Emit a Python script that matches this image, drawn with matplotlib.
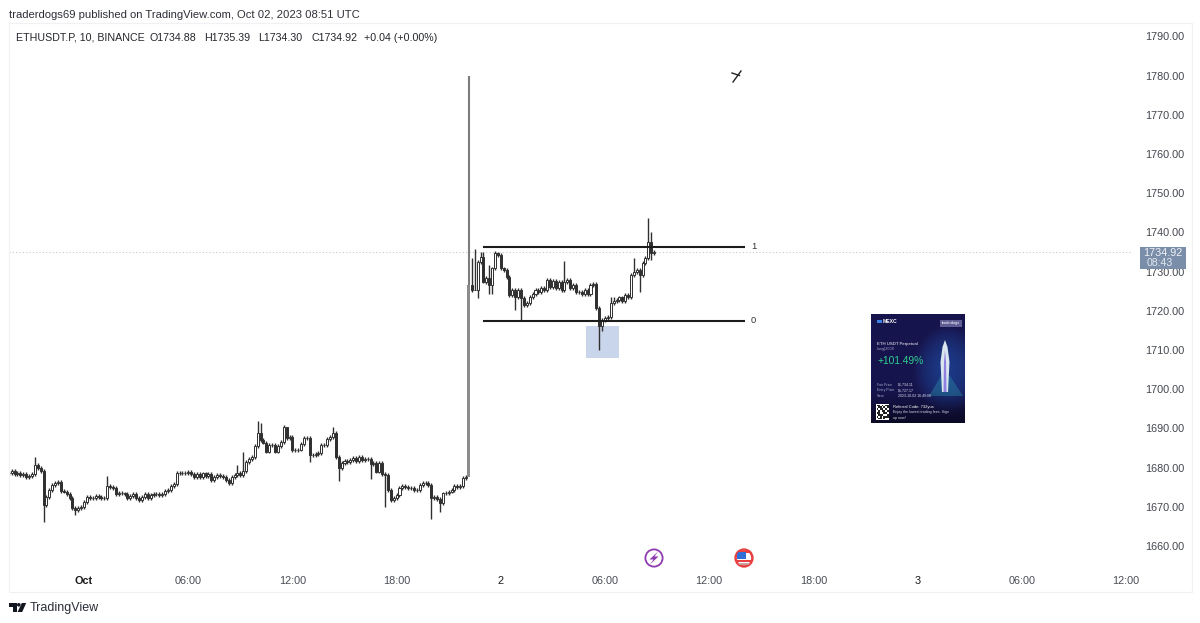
import matplotlib
matplotlib.use("Agg")
import matplotlib.pyplot as plt
from matplotlib.patches import Rectangle, Circle, Polygon
import numpy as np

plt.rcParams['font.family'] = ['Liberation Sans', 'DejaVu Sans']

# ---- data: 10 minute closes ----
closes_a = [1678.7,1679.1,1678.4,1678.7,1678.1,1678.4,1677.5,1677.9,1678.4,1680.7,1679.8,1679.2,1670.5,1672.6,1674.4,1675.5,1676.1,1676.4,1674.1,1673.9,
            1673.3,1672.2,1669.6,1669.3,1669.6,1670.0,1671.3,1672.4,1672.2,1672.2,1672.7,1672.6,1672.2,1672.2,1675.3,1675.1,1674.7,1673.3,1673.6,1673.4,
            1673.3,1672.2,1672.7,1673.3,1672.2,1671.7,1672.4,1673.3,1672.3,1673.0,1673.3,1673.2,1673.0,1673.3,1674.1,1674.4,1675.3,1675.8,1678.7,1678.5,
            1678.7,1678.5,1679.0,1678.4,1677.5,1678.4,1677.7,1678.5,1677.9,1678.4,1676.8,1677.7,1678.1,1677.9,1677.5,1676.8,1676.1,1677.5,1678.1,1678.7,
            1678.1,1679.2,1681.5,1682.1,1682.8,1685.5,1688.7,1687.0,1686.4,1684.1,1685.8,1685.8,1684.1,1685.5,1686.6,1690.4,1687.5,1687.9,1684.5,1684.5,1684.5]
closes_b = [1686.0,1687.5,1687.5,1683.2,1683.2,1683.5,1683.8,1685.8,1685.8,1687.2,1687.7,1688.9,1682.8,1679.8,1681.1,1681.8,1681.5,1681.9,1682.4,1681.8,
            1682.8,1681.9,1682.1,1682.1,1680.9,1681.1,1679.0,1681.1,1678.4,1678.1,1674.4,1671.7,1672.2,1673.0,1674.7,1675.3,1675.0,1674.7,1674.9,1674.3,
            1674.3,1675.5,1676.1,1676.1,1675.5,1672.3,1672.4,1671.9,1671.0,1673.4,1673.6,1673.9,1674.3,1675.3,1675.1,1675.3,1677.3,1677.5]
close_spike = [1726.6]
closes_c = [1725.3,1725.3,1732.5,1733.8,1727.4,1728.3,1726.6,1730.8,1734.7,1734.2,1730.8,1730.4,1728.7,1724.0,1725.3,1723.6,1725.3,1723.2,1721.5,1721.9,
            1723.6,1724.4,1725.3,1724.9,1725.7,1725.3,1727.9,1726.1,1727.7,1725.7,1727.4,1725.3,1727.4,1727.9,1725.7,1726.6,1724.9,1724.9,1724.4,1725.3,
            1724.4,1726.6,1726.8,1720.6,1716.0,1717.6,1718.1,1718.5,1721.9,1722.6,1722.7,1723.4,1722.6,1724.0,1723.4,1729.1,1730.0,1730.4,1729.1,1732.1,
            1733.4,1737.6,1734.7,1734.92]
closes = closes_a + closes_b + close_spike + closes_c
first_open = 1678.5
# wicks worth reading; other bars carry a short wick
high_marks = {9:1682.6,34:1677.9,79:1680.7,81:1684.0,86:1691.9,87:1691.3,96:1689.5,112:1690.3,146:1676.0,159:1780.0,
              160:1733.4,161:1735.7,163:1735.1,164:1735.1,166:1731.6,168:1735.3,169:1735.1,192:1732.8,208:1723.5,209:1723.4,216:1733.4,221:1743.8,222:1740.2,223:1735.39}
low_marks = {12:1666.0,23:1667.9,24:1668.7,101:1684.3,104:1681.5,114:1676.6,125:1677.0,130:1670.0,146:1666.8,149:1668.8,
             161:1725.3,162:1723.2,164:1727.0,166:1724.4,167:1724.4,175:1720.2,177:1717.6,204:1710.0,205:1714.9,218:1724.9,222:1733.0,223:1734.3}
price_ticks = [1790,1780,1770,1760,1750,1740,1730,1720,1710,1700,1690,1680,1670,1660]
time_labels = ['Oct','06:00','12:00','18:00','2','06:00','12:00','18:00','3','06:00','12:00']
fib_one, fib_zero = 1736.4, 1717.5
box_low, box_high = 1708.0, 1716.0
last_price, countdown = 1734.92, '08:43'
W, H = 1200, 623
BAR_PX, BAR0_PX = 2.894, 8.8
L, R, T, B = 9, 1133, 23, 568

fig = plt.figure(figsize=(W/100, H/100), dpi=100, facecolor='white')
ax = fig.add_axes([L/W, 1-B/H, (R-L)/W, (B-T)/H])
ax.set_xlim((L-BAR0_PX)/BAR_PX, (R-BAR0_PX)/BAR_PX)
ax.set_ylim(1660+(546-B)/3.92, 1660+(546-T)/3.92)
for s in ax.spines.values():
    s.set_visible(False)

c = np.array(closes)
o = np.r_[first_open, c[:-1]]
idx = np.arange(len(c))
hi = np.maximum(o, c) + 0.5
lo = np.minimum(o, c) - 0.5
for k, v in high_marks.items():
    hi[k] = v
for k, v in low_marks.items():
    lo[k] = v
ink = '#303030'
ax.add_patch(Rectangle((199.4, box_low), 11.5, box_high-box_low, fc='#c9d5ea', ec='none', zorder=1))
mask = idx != 159
ax.vlines(idx[mask], lo[mask], hi[mask], color=ink, lw=1.0, zorder=3)
up = (c >= o) & mask
dn = (c < o) & mask
ax.bar(idx[up], (c-o)[up], bottom=o[up], width=0.7, fc='white', ec=ink, lw=0.7, zorder=4)
ax.bar(idx[dn], (o-c)[dn], bottom=c[dn], width=0.7, fc=ink, ec=ink, lw=0.7, zorder=4)
ax.vlines([159], [c[159]], [hi[159]], color='#7c7c7c', lw=1.5, zorder=5)
ax.bar([159], [c[159]-o[159]], bottom=[o[159]], width=1.0, fc='#8c8c8c', ec='none', zorder=5)

ax.axhline(last_price, color='#c4c8d0', lw=0.8, ls=(0, (1, 2)), zorder=2)
x1, x2 = (483-BAR0_PX)/BAR_PX, (745-BAR0_PX)/BAR_PX
ax.plot([x1, x2], [fib_one]*2, color='#1c1c1c', lw=1.5, zorder=6, solid_capstyle='butt')
ax.plot([x1, x2], [fib_zero]*2, color='#1c1c1c', lw=1.5, zorder=6, solid_capstyle='butt')
ax.text((751-BAR0_PX)/BAR_PX, fib_one, '1', fontsize=6.8, color='#333', va='center')
ax.text((751-BAR0_PX)/BAR_PX, fib_zero, '0', fontsize=6.8, color='#333', va='center')

ax.yaxis.tick_right()
ax.set_yticks(price_ticks)
ax.set_yticklabels([f'{p:.2f}' for p in price_ticks], fontsize=7.8, color='#43464f')
ax.tick_params(axis='y', length=0, pad=8.6)
ax.set_xticks([26+36*k for k in range(len(time_labels))])
ax.set_xticklabels(time_labels, fontsize=7.8, color='#4a4d55')
ax.tick_params(axis='x', length=0, pad=6)
for lab, t in zip(ax.get_xticklabels(), time_labels):
    if t == 'Oct':
        lab.set_fontweight('bold'); lab.set_color('#1a1a1a')
    elif t in ('2', '3'):
        lab.set_color('#1a1a1a')

# overlay in picture pixels
ov = fig.add_axes([0, 0, 1, 1], facecolor='none')
ov.set_xlim(0, W); ov.set_ylim(H, 0); ov.axis('off')
ov.add_patch(Rectangle((8.5, 23), 1183, 569, fc='none', ec='#f1f1f3', lw=0.9))
ov.text(9, 14.5, 'traderdogs69 published on TradingView.com, Oct 02, 2023 08:51 UTC', fontsize=8.1, color='#2e3038', va='center')
header_parts = [(16, 'ETHUSDT.P, 10, BINANCE'), (150, 'O1734.88'), (204.5, 'H1735.39'), (258.5, 'L1734.30'), (311, 'C1734.92'), (364, '+0.04 (+0.00%)')]
for xp, s in header_parts:
    ov.text(xp, 38, s, fontsize=7.7, color='#24262d', va='center')

# last price label
ov.add_patch(Rectangle((1139.5, 247), 46.5, 21.5, fc='#7a8ea9', ec='none', zorder=5))
ov.text(1163, 253.5, f'{last_price:.2f}', fontsize=7.8, color='#eef1f6', ha='center', va='center', zorder=6)
ov.text(1147, 263, countdown, fontsize=7.6, color='#e3e8ef', ha='left', va='center', zorder=6)

# cross mark
ov.plot([733, 741], [82, 71], color='#222', lw=1.0)
ov.plot([732, 739.5], [73, 75.5], color='#222', lw=1.0)

# event icons
ov.add_patch(Circle((654, 558), 8.6, fc='white', ec='#8e3bb0', lw=1.3))
ov.add_patch(Polygon([[658, 551.5], [649.5, 559.5], [653.5, 559.5], [650, 564.5], [658.5, 556.5], [654.5, 556.5]], fc='#8e3bb0', ec='none'))
flag_ring = Circle((744, 558), 8.4, fc='white', ec='#e84040', lw=1.8, zorder=3)
ov.add_patch(flag_ring)
for rect in [Rectangle((735, 551), 18, 1.8, fc='#e84040', ec='none'),
             Rectangle((735, 559.5), 18, 2.2, fc='#e84040', ec='none'),
             Rectangle((735, 563), 18, 1.8, fc='#c9a0a0', ec='none'),
             Rectangle((737, 551.5), 8.5, 7.5, fc='#2f6fd6', ec='none')]:
    rect.set_zorder(4)
    ov.add_patch(rect)
    rect.set_clip_path(Circle((744, 558), 8.0, transform=ov.transData))

# TradingView logo
ov.add_patch(Polygon([[9, 603], [17, 603], [17, 612], [12.8, 612], [12.8, 607], [9, 607]], fc='#131722', ec='none'))
ov.add_patch(Circle((18.8, 604.8), 1.8, fc='#131722', ec='none'))
ov.add_patch(Polygon([[21.8, 603], [26.2, 603], [22.2, 612], [17.6, 612]], fc='#131722', ec='none'))
ov.text(30, 607.5, 'TradingView', fontsize=9.0, color='#2a2e39', va='center')

# share card picture
cx, cy, cw, ch = 871, 314, 94, 109
card = fig.add_axes([cx/W, 1-(cy+ch)/H, cw/W, ch/H])
card.set_xlim(0, cw); card.set_ylim(ch, 0); card.axis('off')
grad = np.zeros((40, 30, 3))
for r in range(40):
    for q in range(30):
        glow = max(0.0, 1-((q-24)**2/120+(r-20)**2/260))
        fade = 1-0.55*max(0, r-28)/12
        grad[r, q] = [(0.09+0.02*glow)*fade, (0.08+0.14*glow)*fade, (0.30+0.22*glow)*fade]
card.imshow(grad, extent=(0, cw, ch, 0), aspect='auto', zorder=0, interpolation='bilinear')
card.add_patch(Rectangle((69, 6), 22, 7, fc='#5f5e95', ec='none', zorder=2))
card.text(80, 9.5, 'traderdogs', fontsize=2.8, color='white', ha='center', va='center', zorder=3)
card.add_patch(Rectangle((6, 6.5), 4.5, 2.2, fc='#3f7fe8', ec='none', zorder=3))
card.text(12, 7.5, 'MEXC', fontsize=3.6, color='white', weight='bold', va='center', zorder=3)
card.text(6, 29.7, 'ETH USDT Perpetual', fontsize=3.05, color='white', va='center', zorder=3)
card.text(6, 35, 'Long|200X', fontsize=2.7, color='#9fa3c8', va='center', zorder=3)
card.text(6, 47, '+101.49%', fontsize=7.4, color='#2fd090', va='center', zorder=4)
for yy, a, b in [(71, 'Fair Price', '$1,734.11'), (76.5, 'Entry Price', '$1,727.17'), (82, 'Save', '2023-10-02 16:49:08')]:
    card.text(6, yy, a, fontsize=2.5, color='#a8abcc', va='center', zorder=3)
    card.text(27, yy, b, fontsize=2.5, color='#dddff0', va='center', zorder=3)
card.add_patch(Polygon([[58, 82], [70, 62], [79, 62], [92, 82]], fc='#2a8fa8', ec='none', alpha=0.4, zorder=1))
card.add_patch(Polygon([[71, 78], [69.5, 48], [71.5, 33], [74, 26], [76.5, 33], [78.5, 48], [77, 78]], fc='#d9e6ef', ec='none', zorder=2))
card.add_patch(Polygon([[72.5, 78], [73, 48], [74, 36], [75, 48], [75.5, 78]], fc='#8f7fe0', ec='none', zorder=3))
card.add_patch(Rectangle((5, 90), 13, 16, fc='white', ec='none', zorder=3))
qr = ['1101011','0110101','1011010','0101101','1100110','0111001','1010111','0110100']
for r, row in enumerate(qr):
    for q, v in enumerate(row):
        if v == '1':
            card.add_patch(Rectangle((5.6+q*1.7, 90.6+r*1.86), 1.7, 1.86, fc='#222', ec='none', zorder=4))
card.text(22, 93, 'Referral Code: 732yux', fontsize=3.0, color='white', va='center', zorder=3)
card.text(22, 98, 'Enjoy the lowest trading fees. Sign', fontsize=2.6, color='#d8d8ea', va='center', zorder=3)
card.text(22, 104, 'up now!', fontsize=2.6, color='#d8d8ea', va='center', zorder=3)

fig.savefig('out.png', dpi=100, facecolor='white')
print(len(closes))
